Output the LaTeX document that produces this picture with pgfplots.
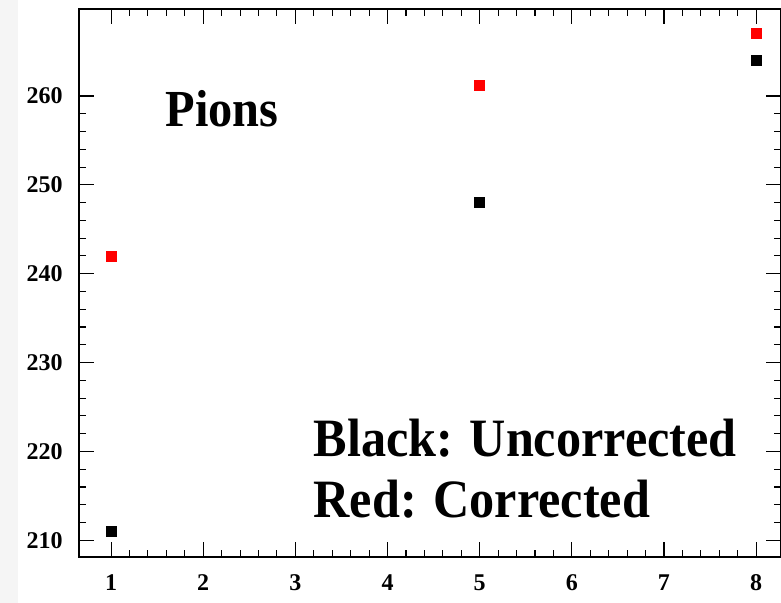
\documentclass[border=0pt]{standalone}
\usepackage{fontspec}
\setmainfont{Liberation Serif}
\newfontfamily\narrowserif[FakeStretch=0.93]{Liberation Serif}
\usepackage{pgfplots}
\pgfplotsset{compat=1.18}

\begin{document}
\begin{tikzpicture}[x=1pt,y=1pt]
% page frame and the pale strip on the far left
\useasboundingbox (-39.5,-23) rectangle (351,278.5);
\fill[black!4] (-39.5,-23) rectangle (-30.5,278.5);
\begin{axis}[
  at={(0,0)}, anchor=south west,
  scale only axis, width=351pt, height=274pt,
  xmin=0.652, xmax=8.27,
  ymin=208.12, ymax=269.79,
  xtick={1,2,...,8}, ytick={210,220,...,260},
  minor tick num=4,
  tick align=inside,
  major tick length=7.5pt, minor tick length=3.5pt,
  axis line style={line width=0.7pt},
  every tick/.style={line width=0.55pt, black},
  /pgf/number format/assume math mode=true,
  tick label style={font=\fontsize{12}{13}\selectfont\bfseries, inner sep=0pt},
  yticklabel style={xshift=-8pt},
  xticklabel style={yshift=-8.5pt},
  clip=false,
]
% uncorrected values
\addplot[only marks, mark=square*, mark size=2.5pt, black]
  coordinates {(1,211) (5,248) (8,264)};
% corrected values
\addplot[only marks, mark=square*, mark size=2.5pt, red, mark options={fill=red, draw=red}]
  coordinates {(1,242) (5,261.2) (8,267)};

\node[anchor=base west, inner sep=0pt, font=\narrowserif\fontsize{26}{29}\selectfont\bfseries]
  at (axis cs:1.586,256.55) {Pions};
\node[anchor=base west, inner sep=0pt, font=\narrowserif\fontsize{27}{30}\selectfont\bfseries]
  at (axis cs:3.193,219.41) {Black: Uncorrected};
\node[anchor=base west, inner sep=0pt, font=\narrowserif\fontsize{27}{30}\selectfont\bfseries]
  at (axis cs:3.193,212.51) {Red: Corrected};
\end{axis}
\end{tikzpicture}
\end{document}
